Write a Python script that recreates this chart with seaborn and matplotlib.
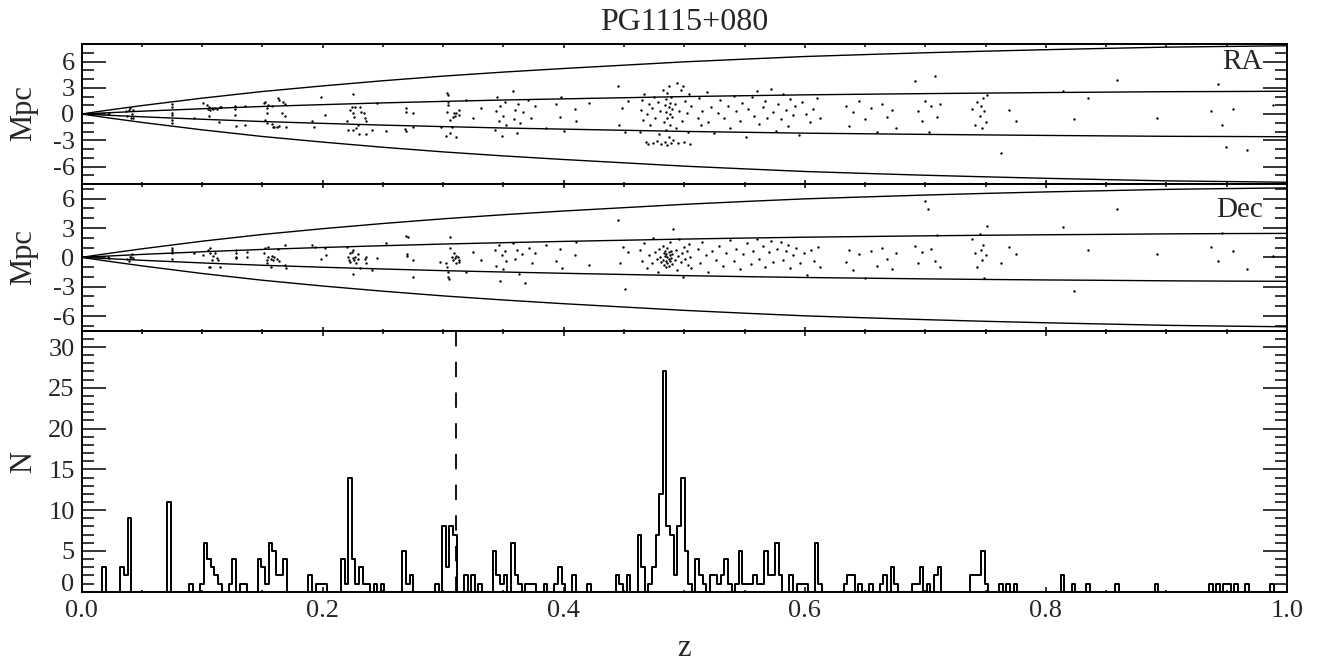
import numpy as np
import pandas as pd
import matplotlib
matplotlib.use("Agg")
import matplotlib.pyplot as plt
import matplotlib.transforms as mtrans
import seaborn as sns
from matplotlib.ticker import MultipleLocator, FixedLocator

sns.set_theme(style="white")
plt.rcParams['font.family'] = ['Liberation Serif', 'DejaVu Serif']
plt.rcParams['axes.unicode_minus'] = False

TITLE = "PG1115+080"
Z_LENS = 0.311

# ---- histogram (bin index, count); bins of width 0.003 starting at 0.00225
BIN_START = 0.00225
BIN_WIDTH = 0.003
N_BINS = 333
hist_bin = [5, 10, 11, 12, 23, 29, 32, 33, 34, 35, 36, 37, 40, 41, 43, 44,
            48, 49, 50, 51, 52, 53, 54, 55, 62, 64, 65, 66,
            71, 72, 73, 74, 75, 76, 77, 78, 80, 82, 88, 89, 90, 97,
            99, 100, 101, 102, 105, 107, 109, 113, 114, 115, 116,
            118, 119, 120, 122, 123, 124, 127, 130, 131, 132, 135, 139,
            147, 148, 150, 153, 154, 156, 157, 158, 159, 160, 161, 162,
            163, 164, 165, 166, 167, 169, 170, 171, 173, 174, 175, 176,
            177, 178, 180, 181, 182, 183, 184, 185, 186, 187, 188, 189,
            190, 191, 192, 195, 197, 198, 199, 202, 203, 210, 211, 212,
            214, 217, 220, 221, 223, 224, 229, 230, 231, 233, 235, 236,
            245, 246, 247, 248, 249, 253, 255, 257, 270, 273, 277, 285,
            296, 311, 313, 315, 316, 318, 321, 328]
hist_count = [3, 3, 2, 9, 11, 1, 1, 6, 4, 3, 2, 1, 1, 4, 1, 1,
              4, 3, 1, 6, 5, 2, 2, 4, 2, 1, 1, 1,
              4, 1, 14, 4, 1, 3, 1, 1, 1, 1, 5, 1, 2, 1,
              8, 3, 8, 7, 2, 2, 1, 5, 2, 1, 2,
              6, 2, 1, 1, 1, 1, 1, 1, 3, 1, 2, 1,
              2, 1, 2, 7, 3, 1, 3, 7, 12, 27, 8, 7,
              2, 8, 14, 5, 1, 4, 2, 1, 2, 2, 1, 2,
              4, 1, 1, 5, 1, 1, 1, 2, 1, 1, 5, 2,
              2, 6, 2, 2, 1, 1, 1, 6, 1, 1, 2, 2,
              1, 1, 1, 2, 3, 1, 1, 1, 3, 1, 2, 3,
              2, 2, 2, 5, 1, 1, 1, 1, 2, 1, 1, 1,
              1, 1, 1, 1, 1, 1, 1, 1]

# ---- envelope curves (Mpc) read along z
curve_z = [0.0, 0.02, 0.05, 0.1, 0.15, 0.2, 0.25, 0.3, 0.35, 0.4, 0.45, 0.5,
           0.55, 0.6, 0.65, 0.7, 0.75, 0.8, 0.85, 0.9, 0.95, 1.0]
ra_outer = [0.0, 0.40, 0.96, 1.81, 2.57, 3.21, 3.80, 4.33, 4.79, 5.20, 5.58,
            5.96, 6.27, 6.57, 6.79, 7.00, 7.18, 7.35, 7.50, 7.64, 7.72, 7.80]
ra_inner = [0.0, 0.13, 0.32, 0.60, 0.86, 1.07, 1.27, 1.44, 1.60, 1.73, 1.86,
            1.99, 2.09, 2.19, 2.26, 2.33, 2.39, 2.45, 2.50, 2.55, 2.57, 2.60]
dec_outer = [0.0, 0.36, 0.87, 1.65, 2.34, 2.93, 3.46, 3.94, 4.36, 4.74, 5.08,
             5.42, 5.71, 5.98, 6.18, 6.37, 6.54, 6.69, 6.82, 6.95, 7.03, 7.10]
dec_inner = [0.0, 0.12, 0.30, 0.57, 0.81, 1.01, 1.19, 1.36, 1.50, 1.63, 1.75,
             1.87, 1.97, 2.06, 2.13, 2.20, 2.26, 2.31, 2.35, 2.40, 2.43, 2.45]

# ---- RA offsets (z, Mpc)
ra_z = [0.022, 0.023,
        0.037, 0.038, 0.039, 0.040, 0.041, 0.042, 0.043, 0.043,
        0.075, 0.075, 0.075, 0.075, 0.075, 0.075, 0.093, 0.101,
        0.104, 0.105, 0.106, 0.107, 0.108, 0.109, 0.111, 0.112, 0.114, 0.106, 0.115, 0.116,
        0.127, 0.127, 0.127, 0.128, 0.136, 0.136,
        0.151, 0.152, 0.154, 0.155, 0.152, 0.154, 0.158, 0.158, 0.159, 0.160, 0.162,
        0.163, 0.164, 0.164, 0.166, 0.167, 0.169, 0.169, 0.170, 0.154,
        0.191, 0.193, 0.199, 0.202,
        0.220, 0.221, 0.223, 0.224, 0.225, 0.225, 0.226, 0.227, 0.228, 0.229, 0.230,
        0.231, 0.232, 0.234, 0.235, 0.236, 0.236, 0.241, 0.245, 0.225,
        0.253, 0.269, 0.269, 0.275, 0.268, 0.269, 0.275,
        0.303, 0.304, 0.304, 0.303, 0.304, 0.306, 0.307, 0.308, 0.309, 0.310, 0.311,
        0.313, 0.302, 0.306, 0.311, 0.298, 0.313,
        0.319, 0.325, 0.331,
        0.343, 0.344, 0.345, 0.346, 0.347, 0.349, 0.350, 0.351, 0.352,
        0.358, 0.359, 0.360, 0.361, 0.362, 0.364, 0.366, 0.370, 0.373, 0.376,
        0.385, 0.394, 0.397, 0.398, 0.400, 0.409, 0.410, 0.421,
        0.445, 0.446, 0.448, 0.451, 0.453,
        0.463, 0.464, 0.465, 0.466, 0.467, 0.468, 0.469, 0.470, 0.471, 0.472,
        0.473, 0.474, 0.475, 0.476, 0.477, 0.478, 0.479, 0.480, 0.481, 0.482,
        0.483, 0.484, 0.484, 0.485, 0.485, 0.485, 0.486, 0.486, 0.486, 0.487,
        0.487, 0.487, 0.488, 0.488, 0.488, 0.489, 0.489, 0.490, 0.490, 0.491,
        0.492, 0.493, 0.494, 0.495, 0.496, 0.497, 0.498, 0.499, 0.500, 0.501,
        0.502, 0.503, 0.504, 0.505, 0.506,
        0.511, 0.512, 0.514, 0.515, 0.519, 0.520, 0.522, 0.525, 0.528, 0.530,
        0.533, 0.536, 0.538, 0.541, 0.543, 0.546, 0.548, 0.551, 0.553, 0.556,
        0.558, 0.560, 0.562, 0.565, 0.567, 0.569, 0.572, 0.574, 0.576, 0.578,
        0.580, 0.582, 0.584, 0.586, 0.588, 0.590, 0.592, 0.595, 0.598, 0.601,
        0.604, 0.607, 0.610, 0.613,
        0.634, 0.637, 0.640, 0.645, 0.650, 0.655, 0.660, 0.664, 0.668, 0.672, 0.676,
        0.691, 0.694, 0.697, 0.700, 0.703, 0.705, 0.708, 0.710, 0.712,
        0.739, 0.741, 0.743, 0.745, 0.746, 0.747, 0.748, 0.749, 0.750, 0.751, 0.763, 0.769, 0.775,
        0.814, 0.823, 0.835, 0.859, 0.892, 0.937, 0.943, 0.946, 0.949, 0.955, 0.967, 0.988]
ra_mpc = [0.0, 0.1,
          0.3, -0.2, 0.5, 0.7, -0.4, 0.0, 0.5, -0.4,
          1.1, 0.8, 0.1, -0.1, -0.7, -1.0, -0.5, 1.3,
          1.0, 0.6, 0.8, 0.5, 0.7, 0.6, 0.7, 0.6, -0.9, -0.2, 0.8, 0.8,
          0.9, 0.6, -0.1, -1.4, 0.9, -1.3,
          1.3, 1.4, 0.65, 1.0, -0.7, -1.0, 0.9, -1.1, -1.45, -1.45, -1.5,
          1.8, 1.6, -1.4, 0.15, 1.4, 1.1, -0.23, -1.45, 0.08,
          -0.8, -1.45, 2.0, -0.1,
          -0.76, -1.83, 0.46, 0.84, 0.08, 2.29, -0.38, 0.84, -1.64, -1.26, -2.29,
          0.84, 0.27, 0.15, -0.5, -0.76, -2.29, -1.83, 1.3, -1.83,
          -1.9, 0.65, 0.27, 0.15, -1.7, -1.9, -1.5,
          2.4, 2.17, 1.4, 0.27, 1.03, -0.69, -1.45, -0.38, 0.15, -0.23, 0.08,
          0.46, -2.5, -2.2, -2.6, -1.45, -0.1,
          1.6, -0.4, 0.7,
          -1.8, 0.4, 1.9, -0.8, 0.9, -2.5, -0.2, 1.4, -1.3,
          2.6, -0.6, 0.5, -2.2, 1.2, -1.0, 0.2, 1.6, -0.5, 0.9,
          -1.6, 1.1, -0.3, 2.0, -1.9, 0.6, -0.8, 1.3,
          3.2, -1.3, 0.7, -2.1, 1.5,
          -2.0, 0.5, 1.6, -0.7, 2.3, -3.2, 0.0, -3.4, 1.1, -1.3,
          0.7, -3.3, 2.0, -0.4, -3.1, 1.4, -2.3, 0.3, -3.4, 2.7,
          -0.9, 1.0, -3.2, 0.2, 1.7, -1.8, 2.4, -0.5, -3.5, 0.8,
          -2.6, 3.2, -1.2, 0.0, 1.3, -3.3, 2.0, -0.3, 0.6, -3.0,
          1.1, -1.6, 3.5, -3.3, 0.4, 2.8, -0.8, 3.2, -3.2, 1.5,
          0.1, -2.0, 2.3, -3.4, 0.9,
          -0.5, 1.8, -1.3, 0.4, 2.5, -0.9, 0.8, -2.2, 0.1, 1.6,
          -0.4, 0.9, -1.6, 2.1, 0.3, -0.8, 1.3, -2.6, 0.6, 1.9,
          -0.2, 2.6, -1.1, 0.8, 1.5, -0.5, 2.9, 0.2, -1.9, 1.1,
          -0.6, 2.3, 0.5, -1.4, 1.7, -0.1, 0.9, -2.4, 1.4, 0.0,
          -0.9, 0.6, 1.8, -0.4,
          0.9, -1.4, 0.2, 1.5, -0.6, 0.7, -2.1, 1.2, -0.3, 0.5, -1.6,
          3.8, 0.4, -0.8, 1.5, -2.0, 0.9, 4.4, -0.3, 1.2,
          0.6, -1.2, 1.4, -0.2, 0.9, -1.6, 1.8, 0.3, -0.9, 2.2, -4.5, 0.5, -0.8,
          2.6, -0.6, 1.8, 3.9, -0.5, 0.4, 3.4, -1.2, -3.8, 0.6, -4.1, 1.0]

# ---- Dec offsets (z, Mpc)
dec_z = [0.022, 0.023,
         0.038, 0.039, 0.041, 0.042, 0.043, 0.040,
         0.075, 0.075, 0.075, 0.075, 0.075, 0.093,
         0.101, 0.105, 0.107, 0.107, 0.108, 0.109, 0.111, 0.112, 0.106, 0.107, 0.115, 0.113,
         0.128, 0.128, 0.128, 0.128, 0.137, 0.137,
         0.151, 0.152, 0.154, 0.154, 0.155, 0.157, 0.158, 0.159, 0.160, 0.162, 0.163,
         0.164, 0.169, 0.169, 0.170, 0.157, 0.155,
         0.191, 0.194, 0.199, 0.202, 0.203,
         0.220, 0.221, 0.222, 0.223, 0.223, 0.224, 0.225, 0.225, 0.226, 0.227, 0.228,
         0.229, 0.229, 0.231, 0.225, 0.235, 0.236, 0.236, 0.241, 0.245,
         0.253, 0.269, 0.271, 0.270, 0.270, 0.275, 0.275,
         0.297, 0.302, 0.303, 0.304, 0.304, 0.305, 0.306, 0.306, 0.307, 0.308, 0.309,
         0.310, 0.311, 0.312, 0.313, 0.313, 0.311,
         0.319, 0.325, 0.331, 0.343, 0.344, 0.346, 0.347, 0.349, 0.350, 0.351, 0.352,
         0.358, 0.360, 0.361, 0.363, 0.365, 0.368, 0.371, 0.374, 0.376,
         0.385, 0.394, 0.397, 0.399, 0.409, 0.410, 0.421,
         0.445, 0.447, 0.449, 0.451, 0.453,
         0.463, 0.465, 0.467, 0.469, 0.471, 0.473, 0.474, 0.476, 0.477, 0.478,
         0.479, 0.480, 0.481, 0.482, 0.482, 0.483, 0.483, 0.484, 0.484, 0.485,
         0.485, 0.485, 0.486, 0.486, 0.486, 0.487, 0.487, 0.487, 0.488, 0.488,
         0.488, 0.489, 0.489, 0.490, 0.490, 0.491, 0.492, 0.493, 0.494, 0.495,
         0.496, 0.497, 0.498, 0.499, 0.500, 0.501, 0.502, 0.503, 0.504, 0.505, 0.506,
         0.511, 0.513, 0.515, 0.518, 0.520, 0.523, 0.526, 0.529, 0.532, 0.535,
         0.538, 0.541, 0.543, 0.546, 0.549, 0.552, 0.555, 0.557, 0.560, 0.562,
         0.565, 0.567, 0.570, 0.572, 0.574, 0.577, 0.580, 0.582, 0.584, 0.586,
         0.588, 0.590, 0.593, 0.596, 0.599, 0.602, 0.605, 0.608, 0.611, 0.613,
         0.634, 0.637, 0.640, 0.645, 0.650, 0.655, 0.660, 0.664, 0.668, 0.672, 0.676,
         0.691, 0.694, 0.697, 0.700, 0.702, 0.705, 0.708, 0.710, 0.712,
         0.739, 0.741, 0.743, 0.745, 0.746, 0.747, 0.748, 0.749, 0.750, 0.751, 0.763, 0.769, 0.775,
         0.814, 0.823, 0.835, 0.859, 0.892, 0.937, 0.943, 0.946, 0.955, 0.967, 0.988]
dec_mpc = [0.0, -0.1,
           -0.2, -0.35, 0.07, 0.34, -0.1, 0.0,
           1.0, 0.8, 0.57, 0.4, -0.2, 0.45,
           0.24, 0.75, 0.92, 0.4, -0.27, 0.13, 0.47, -0.1, -0.96, -1.0, -0.96, -0.27,
           0.8, 0.47, 0.07, -0.1, 0.57, 0.07,
           0.47, 0.92, -0.27, -0.61, 0.07, -0.2, 0.13, -0.27, 0.0, -0.2, 0.82,
           -0.34, 1.26, -0.79, -1.12, -1.0, 1.09,
           1.26, 1.09, -0.14, 0.92, 0.24,
           1.09, 0.07, -0.27, 0.4, -0.44, 0.57, -0.1, 0.75, -0.27, 0.07, -0.54,
           0.34, -0.2, -1.12, -1.7, -0.2, -0.54, 0.0, -1.3, -0.1,
           1.43, 2.18, 2.04, 0.34, 0.13, -0.27, -1.98,
           -0.44, -0.61, -1.0, -1.47, -1.98, -2.25, 2.1, 0.92, 0.07, -0.27, 0.4,
           -0.1, 0.13, 0.0, -0.27, -0.44, -0.61,
           -1.5, 0.5, -0.3, 0.8, -0.9, 1.3, -2.4, 0.2, -1.2, 0.6, -0.4,
           1.5, -0.2, 0.8, -1.7, 0.3, -2.6, 1.0, -0.6, 0.4,
           1.3, -0.4, 0.9, -1.1, 0.2, 1.6, -0.8,
           3.8, -0.6, 1.1, -3.2, 0.5,
           0.8, -0.4, 1.5, -1.1, 0.2, -0.6, 2.0, 0.5, -0.2, -1.5,
           0.9, 0.0, -0.5, 1.2, -0.3, 0.4, -0.8, 0.1, 0.7, -0.4,
           -1.0, 0.3, 0.0, -0.6, 1.0, -0.2, 0.5, -0.9, 0.2, -0.4,
           1.6, -0.1, 0.6, -0.7, 0.3, 2.9, -0.3, 0.8, -1.3, 0.1,
           1.9, -0.5, 0.4, -2.0, 1.1, -0.2, 0.7, -0.8, 1.4, 0.0, -1.1,
           0.9, -0.6, 1.6, 0.2, -1.5, 0.7, -0.3, 1.2, -0.9, 0.4,
           1.8, -0.4, 0.9, -1.2, 0.3, 1.5, -0.7, 0.6, 1.9, -0.2,
           1.2, -1.0, 0.5, 1.7, -0.5, 0.9, 1.6, -0.3, 0.6, 1.3,
           -1.1, 0.2, 1.0, -0.6, 0.4, -1.8, 0.8, -0.4, 1.1, -1.0,
           -0.5, 0.8, -1.3, 0.3, -2.1, 0.6, -0.9, 1.0, -0.2, -1.2, 0.4,
           1.2, -0.6, 0.5, 5.8, 4.9, 0.9, -0.4, 2.3, -1.0,
           1.9, 0.4, -1.0, 2.4, 0.8, -0.3, 1.3, -2.1, 0.2, 3.2, -0.6, 1.1, 0.3,
           3.1, -3.4, 0.8, 4.9, 0.3, 1.1, -0.4, 2.5, 0.6, -1.2, 0.1]

# ---------------------------------------------------------------- figure
W, H = 1325, 663
fig = plt.figure(figsize=(W / 100, H / 100), dpi=100)
left = 81.5 / W
width = (1287 - 81.5) / W

def fy(px):
    return 1 - px / H

ax1 = fig.add_axes([left, fy(184), width, (184 - 44) / H])
ax2 = fig.add_axes([left, fy(330.7), width, (330.7 - 184) / H])
ax3 = fig.add_axes([left, fy(591.7), width, (591.7 - 330.7) / H])

ra_df = pd.DataFrame({"z": ra_z, "mpc": ra_mpc})
dec_df = pd.DataFrame({"z": dec_z, "mpc": dec_mpc})

panels = [(ax1, ra_df, "RA", ra_outer, ra_inner, 8.0, 5.9),
          (ax2, dec_df, "Dec", dec_outer, dec_inner, 7.5, 4.8)]
for ax, df, lab, outer, inner, lim, ty in panels:
    cdf = pd.DataFrame({"z": curve_z, "outer": outer, "inner": inner})
    for col in ["outer", "inner"]:
        for sgn in (1, -1):
            sns.lineplot(x=cdf["z"], y=sgn * cdf[col], ax=ax, color="black",
                         linewidth=1.0, estimator=None, sort=False)
    sns.scatterplot(data=df, x="z", y="mpc", ax=ax, color="black", s=3,
                    linewidth=0, marker="o")
    ax.set_ylim(-lim, lim)
    ax.yaxis.set_major_locator(FixedLocator([-6, -3, 0, 3, 6]))
    ax.yaxis.set_minor_locator(MultipleLocator(1))
    ax.text(0.98, ty, lab, ha="right", va="center", fontsize=21)

edges = list(BIN_START + BIN_WIDTH * np.arange(N_BINS + 1))
centers = BIN_START + BIN_WIDTH * (np.array(hist_bin) + 0.5)
galaxy_z = np.repeat(centers, hist_count)
sns.histplot(x=galaxy_z, bins=edges, element="step", fill=False,
             color="black", linewidth=1.4, ax=ax3)
ax3.axvline(Z_LENS, color="black", linewidth=1.3, dashes=(8.5, 8.5))
ax3.set_ylim(0, 32)
ax3.yaxis.set_major_locator(FixedLocator([0, 5, 10, 15, 20, 25, 30]))
ax3.yaxis.set_minor_locator(MultipleLocator(1))

for ax in (ax1, ax2, ax3):
    ax.set_xlim(0, 1)
    ax.xaxis.set_major_locator(FixedLocator([0.0, 0.2, 0.4, 0.6, 0.8, 1.0]))
    ax.xaxis.set_minor_locator(MultipleLocator(0.05))
    ax.set_xlabel("")
    ax.set_ylabel("")
    for s in ax.spines.values():
        s.set_linewidth(1.4)
        s.set_color("black")
    ax.tick_params(axis="both", which="both", direction="in", top=True, right=True,
                   bottom=True, left=True, color="black", width=1.1, labelsize=19)
    ax.tick_params(axis="y", which="major", length=17.3, pad=5)
    ax.tick_params(axis="y", which="minor", length=8.6)
for ax in (ax1, ax2):
    ax.set_xticklabels([])
    ax.tick_params(axis="x", which="major", length=3)
    ax.tick_params(axis="x", which="minor", length=1.8)
ax3.tick_params(axis="x", which="major", length=3.6, pad=6)
ax3.tick_params(axis="x", which="minor", length=1.8)
ax3.set_xticklabels(["0.0", "0.2", "0.4", "0.6", "0.8", "1.0"])

# lift the "0" label of the histogram a little, as in the original layout
for tick in ax3.yaxis.get_major_ticks():
    if tick.get_loc() == 0:
        lab = tick.label1
        lab.set_transform(lab.get_transform() +
                          mtrans.ScaledTranslation(0, 9 / 100, fig.dpi_scale_trans))

fig.text((81.5 + 1287) / 2 / W, fy(22), TITLE, ha="center", va="center", fontsize=23)
fig.text(24 / W, fy(113), "Mpc", rotation=90, ha="center", va="center", fontsize=22)
fig.text(24 / W, fy(257), "Mpc", rotation=90, ha="center", va="center", fontsize=22)
fig.text(24 / W, fy(462), "N", rotation=90, ha="center", va="center", fontsize=22)
fig.text((81.5 + 1287) / 2 / W, fy(648), "z", ha="center", va="center", fontsize=22)

fig.savefig("out.png", dpi=100)
